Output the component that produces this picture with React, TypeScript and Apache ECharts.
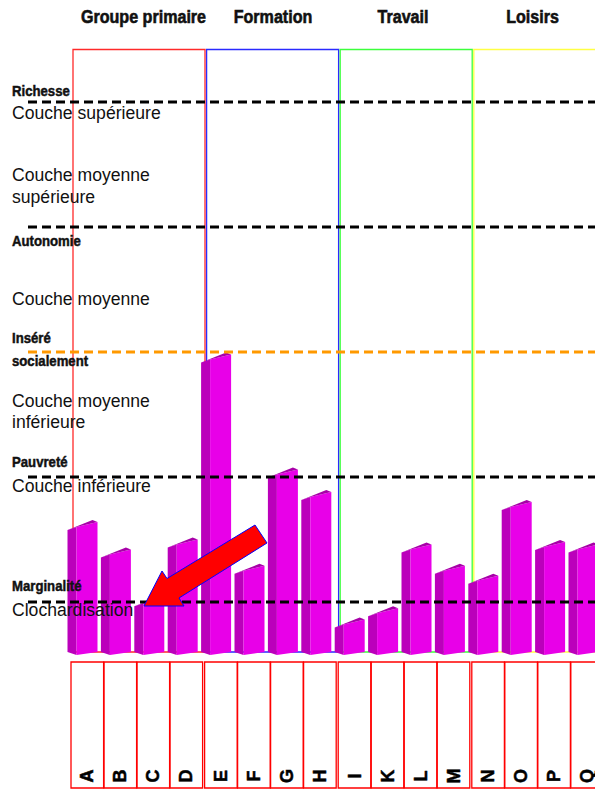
import React, { useEffect, useRef } from "react";
import * as echarts from "echarts";

// Domains of social participation and the people scored in each
const categories = ["A", "B", "C", "D", "E", "F", "G", "H", "I", "K", "L", "M", "N", "O", "P", "Q"];
const scores = [1.6, 1.38, 0.99, 1.46, 2.94, 1.25, 2.02, 1.84, 0.82, 0.91, 1.42, 1.25, 1.17, 1.76, 1.44, 1.42];

const groups = ["Groupe primaire", "Formation", "Travail", "Loisirs"];
const groupStarts = [0, 4, 8, 12];
const groupColors = ["#ff2a2a", "#2a2aff", "#3cff3c", "#ffff44"];
const groupTitleX = [143.5, 273, 403, 532.5];

// Thresholds of the social scale
const levelValues = [1, 2, 3, 4, 5];
const levelColors = ["#000000", "#000000", "#ff9900", "#000000", "#000000"];

const Y_MIN = 0.6;
const Y_MAX = 5.42;

// Scale names drawn on the left
const levelLabels = [
  { text: "Richesse", y: 90.5 },
  { text: "Autonomie", y: 240.5 },
  { text: "Inséré", y: 338 },
  { text: "socialement", y: 361 },
  { text: "Pauvreté", y: 462 },
  { text: "Marginalité", y: 585.5 },
];
const strataLabels = [
  { text: "Couche supérieure", y: 112.5 },
  { text: "Couche moyenne", y: 175 },
  { text: "supérieure", y: 196.5 },
  { text: "Couche moyenne", y: 298.7 },
  { text: "Couche moyenne", y: 400.5 },
  { text: "inférieure", y: 422 },
  { text: "Couche inférieure", y: 485.5 },
  { text: "Clochardisation", y: 609.5 },
];

const FONT = "'Liberation Sans', Arial, sans-serif";

export default function App() {
  const ref = useRef<HTMLDivElement>(null);

  useEffect(() => {
    if (!ref.current) return;
    const chart = echarts.init(ref.current, null, { renderer: "svg" });

    const renderBar = (params: any, api: any) => {
      const i = api.value(0);
      const v = api.value(1);
      const [cx, yT] = api.coord([i, v]);
      const yBase = api.coord([i, Y_MIN])[1];
      const band = api.size([1, 0])[0];
      const left = cx - band / 2;
      const x0 = left - 5.5;
      const xn = x0 + 9;
      const xr = xn + 21;
      const yB = yBase + 3;
      const boxLeft = left - 2 - (i % 4) * 0.4;
      return {
        type: "group",
        children: [
          {
            type: "polygon",
            shape: { points: [[x0, yT + 3], [xn, yT], [xn, yB], [x0, yB - 3]] },
            style: { fill: "#bb00bb" },
          },
          {
            type: "polygon",
            shape: { points: [[xn, yT], [xr, yT - 5], [xr, yB - 3], [xn, yB]] },
            style: { fill: "#e800e8" },
          },
          {
            type: "polygon",
            shape: { points: [[x0, yT + 3], [x0 + 25, yT - 7], [xr, yT - 5], [xn, yT]] },
            style: { fill: "#a800a8" },
          },
          {
            type: "rect",
            shape: { x: boxLeft, y: yBase + 10, width: 32.6, height: 126 },
            style: { fill: "none", stroke: "#ff0000", lineWidth: 1.3 },
          },
          {
            type: "text",
            x: boxLeft + 16.3,
            y: yBase + 124,
            rotation: Math.PI / 2,
            style: {
              text: categories[i],
              fill: "#000",
              stroke: "#000",
              lineWidth: 0.5,
              fontSize: 18,
              fontWeight: "bold",
              fontFamily: FONT,
              align: "center",
              verticalAlign: "middle",
            },
          },
        ],
      };
    };

    const renderFrame = (params: any, api: any) => {
      const s = api.value(0);
      const [cx, top] = api.coord([s, Y_MAX]);
      const bottom = api.coord([s, Y_MIN])[1];
      const band = api.size([1, 0])[0];
      return {
        type: "rect",
        shape: { x: cx - band / 2, y: top, width: band * 4 - 1.6, height: bottom - top },
        style: { fill: "none", stroke: groupColors[params.dataIndex], lineWidth: 1.3 },
      };
    };

    const renderLevel = (params: any, api: any) => {
      const y = api.coord([0, api.value(1)])[1];
      const cs = params.coordSys;
      return {
        type: "line",
        shape: { x1: cs.x - 45, y1: y, x2: cs.x + cs.width, y2: y },
        style: {
          stroke: levelColors[params.dataIndex],
          lineWidth: 3,
          lineDash: [9, 5],
        },
      };
    };

    const textEls: any[] = [];
    groups.forEach((g, k) => {
      textEls.push({
        type: "text",
        x: groupTitleX[k],
        y: 16.5,
        scaleX: 0.87,
        z: 50,
        style: {
          text: g,
          fill: "#111",
          stroke: "#111",
          lineWidth: 0.6,
          fontSize: 18.5,
          fontWeight: "bold",
          fontFamily: FONT,
          align: "center",
          verticalAlign: "middle",
        },
      });
    });
    levelLabels.forEach((l) => {
      textEls.push({
        type: "text",
        x: 12,
        y: l.y,
        scaleX: 0.85,
        z: 50,
        style: {
          text: l.text,
          fill: "#111",
          stroke: "#111",
          lineWidth: 0.5,
          fontSize: 15.5,
          fontWeight: "bold",
          fontFamily: FONT,
          align: "left",
          verticalAlign: "middle",
        },
      });
    });
    strataLabels.forEach((l) => {
      textEls.push({
        type: "text",
        x: 12,
        y: l.y,
        z: 50,
        style: {
          text: l.text,
          fill: "#111",
          fontSize: 17.6,
          fontFamily: FONT,
          align: "left",
          verticalAlign: "middle",
        },
      });
    });
    // Pointer towards the lowest level
    textEls.push({
      type: "polygon",
      z: 100,
      shape: {
        points: [
          [144, 606],
          [162, 571],
          [167, 578.5],
          [255, 525],
          [267, 543],
          [179, 598],
          [184, 606],
        ],
      },
      style: { fill: "#ff0000", stroke: "#0000ff", lineWidth: 1 },
    });

    chart.setOption({
      animation: false,
      backgroundColor: "#ffffff",
      grid: { left: 73, top: 49.5, width: 534.4, height: 602.5 },
      xAxis: { type: "category", data: categories, show: false },
      yAxis: { type: "value", min: Y_MIN, max: Y_MAX, show: false },
      series: [
        {
          type: "custom",
          z: 1,
          renderItem: renderFrame,
          data: groupStarts.map((s) => [s, Y_MAX]),
        },
        {
          type: "custom",
          z: 2,
          renderItem: renderBar,
          data: scores.map((v, i) => [i, v]),
        },
        {
          type: "custom",
          z: 3,
          renderItem: renderLevel,
          data: levelValues.map((v) => [0, v]),
        },
      ],
      graphic: { elements: textEls },
    });

    return () => chart.dispose();
  }, []);

  return (
    <div
      style={{
        position: "fixed",
        left: 0,
        top: 0,
        width: 595,
        height: 789,
        overflow: "hidden",
        background: "#fff",
      }}
    >
      <div ref={ref} style={{ width: 640, height: 789 }} />
    </div>
  );
}
